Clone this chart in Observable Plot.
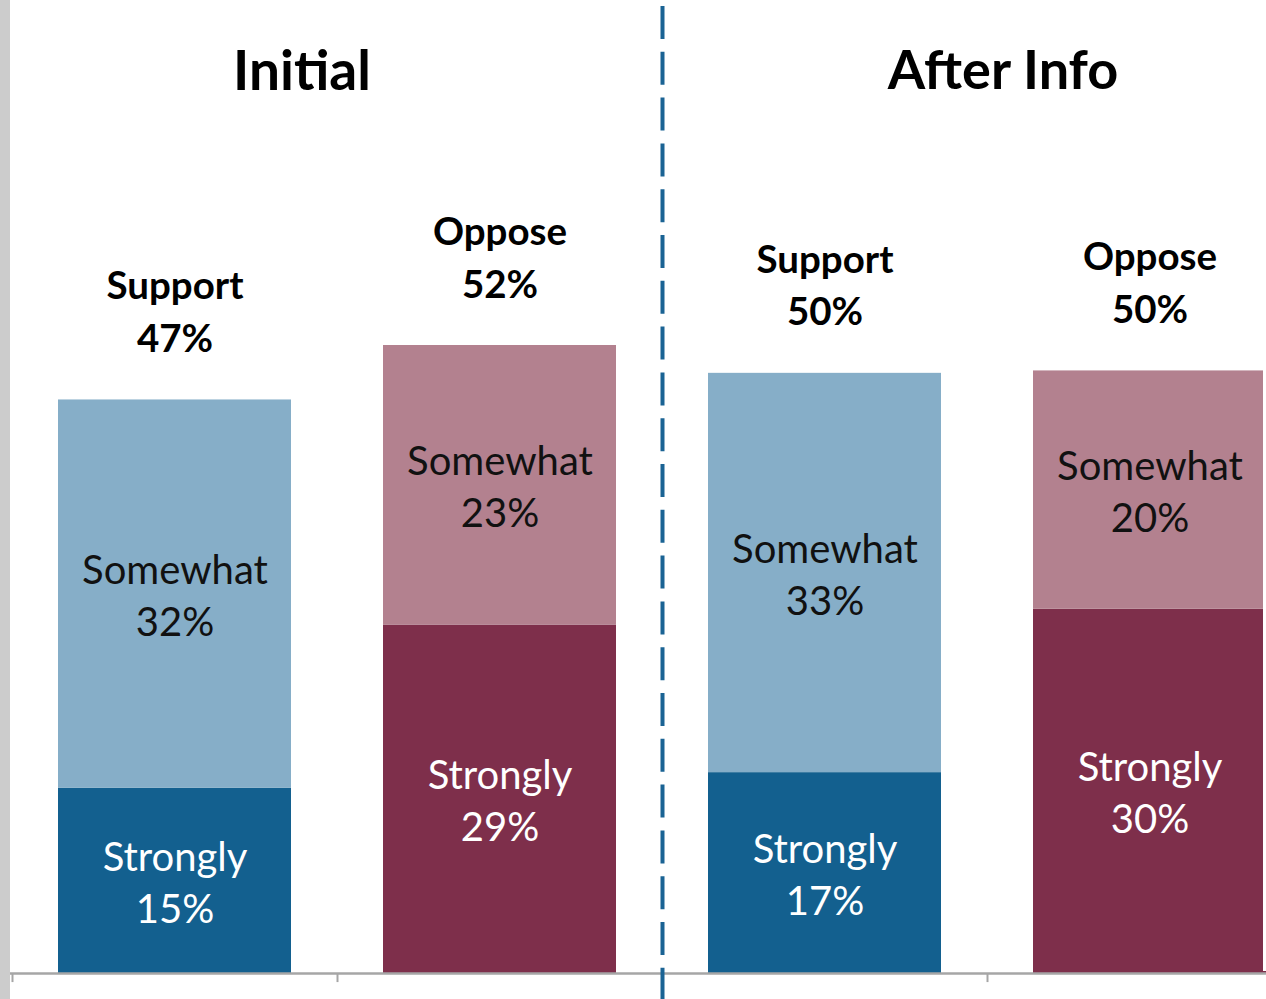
<!DOCTYPE html>
<html><head><meta charset="utf-8">
<script src="https://cdn.jsdelivr.net/npm/d3@7"></script>
<script src="https://cdn.jsdelivr.net/npm/@observablehq/plot@0.6"></script>
<style>
html,body{margin:0;padding:0;background:#fff;overflow:hidden;}
#wrap{position:relative;width:1266px;height:999px;overflow:hidden;}
#edge{position:absolute;left:0;top:0;width:10px;height:999px;background:#cccccc;}
#trim{position:absolute;left:1263px;top:0;width:3px;height:971px;background:#ffffff;}
#chart svg{display:block;}
</style></head><body><div id="wrap"><div id="chart"></div><div id="edge"></div><div id="trim"></div></div>
<script>
// ---- data ----
const phases = ["Initial", "Initial", "After Info", "After Info"];
const sides = ["Support", "Oppose", "Support", "Oppose"];
const strongly = [15.3, 28.8, 16.6, 30.1];
const somewhat = [32.1, 23.1, 33.0, 19.7];
const titles = ["Initial", "After Info"];
const levels = ["Strongly", "Somewhat"];
const palette = ["#13608f", "#86aec8", "#7e2f4b", "#b3818f"];

// ---- derived tables ----
const keys = phases.map((p, i) => p + "|" + sides[i]);
const segments = [];
keys.forEach((k, i) => {
  segments.push({key: k, level: levels[0], cls: sides[i] + " Strongly", y1: 0, y2: strongly[i], v: strongly[i]});
  segments.push({key: k, level: levels[1], cls: sides[i] + " Somewhat", y1: strongly[i], y2: strongly[i] + somewhat[i], v: somewhat[i]});
});
const totals = keys.map((k, i) => ({key: k, side: sides[i], total: strongly[i] + somewhat[i]}));
const font = "Lato, 'Open Sans', sans-serif";

const chart = Plot.plot({
  width: 1266,
  height: 999,
  margin: 0,
  style: {fontFamily: font, background: "#fff", overflow: "hidden"},
  x: {type: "band", domain: keys, range: [12, 1312], paddingInner: 0.283, paddingOuter: 0.1415, axis: null},
  y: {domain: [0, 100], range: [973, 973 - 1210], axis: null},
  color: {domain: ["Support Strongly", "Support Somewhat", "Oppose Strongly", "Oppose Somewhat"], range: palette},
  marks: [
    Plot.barY(segments, {x: "key", y1: "y1", y2: "y2", fill: "cls"}),
    Plot.ruleY([0], {stroke: "#a6a6a6", strokeWidth: 2.5}),
    Plot.ruleX(keys, {x: d => d, dx: -162.5, y1: 0, y2: -0.75, stroke: "#a6a6a6", strokeWidth: 2}),
    Plot.ruleX([keys[2]], {x: d => d, dx: -162.5, stroke: "#1a6394", strokeWidth: 4, strokeDasharray: "33,12.8", strokeDashoffset: 39.8}),
    Plot.text(segments, {
      x: "key", y: d => (d.y1 + d.y2) / 2,
      text: d => d.level + "\n" + Math.round(d.v) + "%",
      fill: d => d.level === "Strongly" ? "#ffffff" : "#111111",
      fontSize: 40, lineHeight: 1.31, dy: -1
    }),
    Plot.text(totals, {
      x: "key", y: "total",
      text: d => d.side + "\n" + Math.round(d.total) + "%",
      fill: "#000", fontWeight: "bold", fontSize: 38.5, lineHeight: 1.37,
      lineAnchor: "bottom", dy: -48
    }),
    Plot.text([titles[0]], {x: () => keys[0], dx: 127, frameAnchor: "top", lineAnchor: "top", dy: 50, text: d => d, fontSize: 55, fontWeight: "bold", fill: "#000"}),
    Plot.text([titles[1]], {x: () => keys[2], dx: 178, frameAnchor: "top", lineAnchor: "top", dy: 50, text: d => d, fontSize: 54, fontWeight: "bold", fill: "#000"})
  ]
});
document.getElementById("chart").appendChild(chart);
</script>
</body></html>
